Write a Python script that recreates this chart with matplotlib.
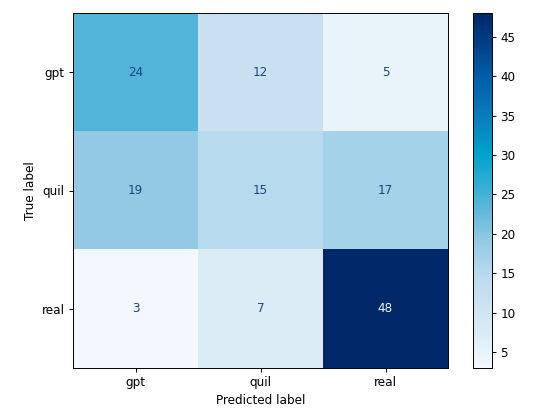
import numpy as np
import matplotlib
matplotlib.use('Agg')
import matplotlib.pyplot as plt
import matplotlib.colors as colors

labels = ['gpt', 'quil', 'real']
cm = np.array([[24, 12, 5],
               [19, 15, 17],
               [3, 7, 48]])

# colour stops (value, colour)
stop_vals = [3, 5, 7, 12, 15, 17, 19, 24, 30, 35, 40, 45, 48]
stop_cols = ['#f2f8fe', '#e8f4fa', '#dcecf6', '#c8e0f0', '#b8daee', '#a4d2e8',
             '#94cae4', '#52b4d8', '#00a4cc', '#0a7cbc', '#005ea8', '#003a80',
             '#002868']
cbar_ticks = [5, 10, 15, 20, 25, 30, 35, 40, 45]

vmin, vmax = cm.min(), cm.max()
pos = [(v - vmin) / (vmax - vmin) for v in stop_vals]
cmap = colors.LinearSegmentedColormap.from_list('blues_pic', list(zip(pos, stop_cols)))

dpi = 86.72
fig = plt.figure(figsize=(555/dpi, 413/dpi), dpi=dpi)
ax = fig.add_axes([73/555, 1-368/413, 375/555, 355/413])
cax = fig.add_axes([473/555, 1-368/413, 19/555, 355/413])

im = ax.imshow(cm, cmap=cmap, vmin=vmin, vmax=vmax, aspect='auto',
               interpolation='nearest')
thresh = (vmin + vmax) / 2.0
for i in range(cm.shape[0]):
    for j in range(cm.shape[1]):
        c = '#f0f6fc' if cm[i, j] > thresh else '#1a4684'
        ax.text(j, i, str(cm[i, j]), ha='center', va='center', color=c,
                fontsize=10)

ax.set_xticks(range(len(labels)))
ax.set_xticklabels(labels)
ax.set_yticks(range(len(labels)))
ax.set_yticklabels(labels)
ax.set_xlabel('Predicted label')
ax.set_ylabel('True label')

cb = fig.colorbar(im, cax=cax)
cb.set_ticks(cbar_ticks)

fig.savefig('out.png', dpi=dpi)
